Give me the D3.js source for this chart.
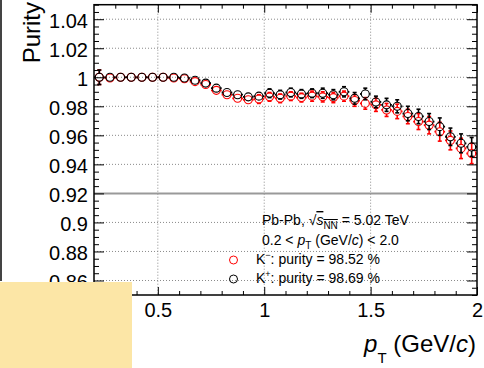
<!DOCTYPE html>
<html>
<head>
<meta charset="utf-8">
<script src="https://cdn.jsdelivr.net/npm/d3@7"></script>
<style>
body { margin: 0; background: #fff; }
svg { display: block; font-family: "Liberation Sans", Arial, Helvetica, sans-serif; }
</style>
</head>
<body>
<svg id="chart" width="484" height="368"></svg>
<script>
// bin centres (GeV/c)
const ptBins = [0.225, 0.275, 0.325, 0.375, 0.425, 0.475, 0.525, 0.575, 0.625, 0.675,
                0.725, 0.775, 0.825, 0.875, 0.925, 0.975, 1.025, 1.075, 1.125, 1.175,
                1.225, 1.275, 1.325, 1.375, 1.425, 1.475, 1.525, 1.575, 1.625, 1.675,
                1.725, 1.775, 1.825, 1.875, 1.925, 1.975];
const binHalfWidth = 0.025;

// K- purity (red)
const kMinus = [1.000, 0.9995, 1.000, 1.000, 1.000, 1.000, 1.000, 0.9995, 0.999, 0.997,
                0.995, 0.991, 0.988, 0.9855, 0.9845, 0.985, 0.9865, 0.9855, 0.987, 0.986,
                0.987, 0.9865, 0.986, 0.987, 0.984, 0.982, 0.981, 0.9775, 0.9765, 0.973,
                0.9695, 0.967, 0.9625, 0.9565, 0.951, 0.9475];
const kMinusErr = [0.005, 0.002, 0.0015, 0.0015, 0.0015, 0.0015, 0.0015, 0.0015, 0.002, 0.002,
                   0.002, 0.0025, 0.0025, 0.0025, 0.0025, 0.003, 0.003, 0.003, 0.003, 0.003,
                   0.0035, 0.0035, 0.0035, 0.0035, 0.004, 0.004, 0.0045, 0.0045, 0.005, 0.005,
                   0.0055, 0.006, 0.0065, 0.0065, 0.007, 0.007];

// K+ purity (black)
const kPlus = [1.000, 1.000, 1.000, 1.000, 1.000, 1.000, 1.000, 1.000, 0.9995, 0.998,
               0.996, 0.9925, 0.9895, 0.988, 0.9865, 0.987, 0.989, 0.988, 0.9895, 0.9885,
               0.989, 0.989, 0.988, 0.990, 0.9855, 0.9885, 0.983, 0.981, 0.980, 0.975,
               0.973, 0.9695, 0.966, 0.959, 0.9545, 0.952];
const kPlusErr = [0.005, 0.002, 0.0015, 0.0015, 0.0015, 0.0015, 0.0015, 0.0015, 0.002, 0.002,
                  0.002, 0.002, 0.0025, 0.0025, 0.0025, 0.0025, 0.003, 0.003, 0.003, 0.003,
                  0.003, 0.0035, 0.0035, 0.0035, 0.004, 0.004, 0.004, 0.0045, 0.0045, 0.005,
                  0.005, 0.0055, 0.006, 0.006, 0.0065, 0.0065];

// axis ticks
const xMajor = [0.5, 1, 1.5, 2];
const xMinor = [0.3, 0.4, 0.6, 0.7, 0.8, 0.9, 1.1, 1.2, 1.3, 1.4, 1.6, 1.7, 1.8, 1.9];
const yMajor = [0.86, 0.88, 0.9, 0.92, 0.94, 0.96, 0.98, 1, 1.02, 1.04];
const yMinorStep = 0.005;
const refLine = 0.92;

const svg = d3.select("#chart");
const x = d3.scaleLinear().domain([0.2, 2.0]).range([94, 477]);
const y = d3.scaleLinear().domain([0.85, 1.05]).range([295, 4.7]);
const [x0, x1] = x.range();
const [yb, yt] = y.range();

const yMinor = d3.range(0.85, 1.0501, yMinorStep)
    .map(v => +v.toFixed(3))
    .filter(v => !yMajor.some(m => Math.abs(m - v) < 1e-6));

// left neighbour pad edge
svg.append("line")
    .attr("x1", 1).attr("x2", 1).attr("y1", 0).attr("y2", 281)
    .attr("stroke", "#444").attr("stroke-width", 2);

// grid
const grid = svg.append("g").attr("stroke", "#8a8a8a").attr("stroke-width", 1)
    .attr("stroke-dasharray", "1,2");
grid.selectAll(".gx").data(xMajor.filter(d => d < 2)).enter().append("line")
    .attr("x1", d => x(d)).attr("x2", d => x(d)).attr("y1", yt).attr("y2", yb);
grid.selectAll(".gy").data(yMajor.filter(d => d !== refLine)).enter().append("line")
    .attr("x1", x0).attr("x2", x1).attr("y1", d => y(d)).attr("y2", d => y(d));

// reference line
svg.append("line")
    .attr("x1", x0).attr("x2", x1).attr("y1", y(refLine)).attr("y2", y(refLine))
    .attr("stroke", "#999").attr("stroke-width", 2);

// data
const r = 4;
function drawSeries(vals, errs, color) {
    const g = svg.append("g").attr("stroke", color).attr("fill", "none");
    const pts = ptBins.map((p, i) => ({ p, v: vals[i], e: errs[i] }));
    pts.forEach(d => {
        const cx = x(d.p), cy = y(d.v);
        const xl = x(d.p - binHalfWidth), xr = x(d.p + binHalfWidth);
        const ylo = y(d.v - d.e), yhi = y(d.v + d.e);
        g.append("line").attr("x1", xl).attr("x2", cx - r).attr("y1", cy).attr("y2", cy).attr("stroke-width", 1.8);
        g.append("line").attr("x1", cx + r).attr("x2", xr).attr("y1", cy).attr("y2", cy).attr("stroke-width", 1.8);
        if (ylo > cy + r) {
            g.append("line").attr("x1", cx).attr("x2", cx).attr("y1", cy + r).attr("y2", ylo).attr("stroke-width", 1.6);
            g.append("line").attr("x1", cx - 2).attr("x2", cx + 2).attr("y1", ylo).attr("y2", ylo).attr("stroke-width", 1.6);
        }
        if (yhi < cy - r) {
            g.append("line").attr("x1", cx).attr("x2", cx).attr("y1", cy - r).attr("y2", yhi).attr("stroke-width", 1.6);
            g.append("line").attr("x1", cx - 2).attr("x2", cx + 2).attr("y1", yhi).attr("y2", yhi).attr("stroke-width", 1.6);
        }
        g.append("circle").attr("cx", cx).attr("cy", cy).attr("r", r).attr("stroke-width", 1.1);
    });
}
drawSeries(kMinus, kMinusErr, "#f00");
drawSeries(kPlus, kPlusErr, "#000");

// axes (ROOT style, ticks inside)
function styleAxis(g, size) {
    g.select(".domain").remove();
    g.selectAll("text").attr("font-family", null).attr("font-size", size).attr("fill", "#000");
    g.selectAll("line").attr("stroke", "#000").attr("stroke-width", 1);
    g.attr("font-family", null).attr("font-size", null);
}
const fmt = d3.format("");
svg.append("g").attr("transform", `translate(0,${yb})`)
    .call(d3.axisBottom(x).tickValues(xMajor).tickSize(-8).tickPadding(8).tickFormat(fmt))
    .call(g => styleAxis(g, 20));
svg.append("g").attr("transform", `translate(0,${yb})`)
    .call(d3.axisBottom(x).tickValues(xMinor).tickSize(-4).tickFormat(""))
    .call(g => styleAxis(g, 20));
svg.append("g").attr("transform", `translate(0,${yt})`)
    .call(d3.axisTop(x).tickValues(xMajor).tickSize(-8).tickFormat(""))
    .call(g => styleAxis(g, 20));
svg.append("g").attr("transform", `translate(0,${yt})`)
    .call(d3.axisTop(x).tickValues(xMinor).tickSize(-4).tickFormat(""))
    .call(g => styleAxis(g, 20));
svg.append("g").attr("transform", `translate(${x0},0)`)
    .call(d3.axisLeft(y).tickValues(yMajor).tickSize(-10).tickPadding(6).tickFormat(fmt))
    .call(g => styleAxis(g, 20))
    .call(g => g.selectAll("text").attr("dy", "0.4em"));
svg.append("g").attr("transform", `translate(${x0},0)`)
    .call(d3.axisLeft(y).tickValues(yMinor).tickSize(-5).tickFormat(""))
    .call(g => styleAxis(g, 20));
svg.append("g").attr("transform", `translate(${x1},0)`)
    .call(d3.axisRight(y).tickValues(yMajor).tickSize(-10).tickFormat(""))
    .call(g => styleAxis(g, 20));
svg.append("g").attr("transform", `translate(${x1},0)`)
    .call(d3.axisRight(y).tickValues(yMinor).tickSize(-5).tickFormat(""))
    .call(g => styleAxis(g, 20));

// frame
svg.append("rect")
    .attr("x", x0).attr("y", yt).attr("width", x1 - x0).attr("height", yb - yt)
    .attr("fill", "none").attr("stroke", "#000").attr("stroke-width", 1.5);

// axis titles
svg.append("text")
    .attr("transform", "translate(40,2) rotate(-90)")
    .attr("text-anchor", "end").attr("font-size", 24)
    .text("Purity");

const xt = svg.append("text").attr("x", 476).attr("y", 352)
    .attr("text-anchor", "end").attr("font-size", 24);
xt.append("tspan").attr("font-style", "italic").text("p");
xt.append("tspan").attr("font-size", 15).attr("dy", 11).text("T");
xt.append("tspan").attr("dy", -11).text(" (GeV/");
xt.append("tspan").attr("font-style", "italic").text("c");
xt.append("tspan").text(")");

// legend
const lg = svg.append("g").attr("font-size", 14).attr("fill", "#000");
const l1 = lg.append("text").attr("x", 262).attr("y", 225);
l1.append("tspan").text("Pb-Pb, \u221A");
const rad = l1.append("tspan").style("text-decoration", "overline");
rad.append("tspan").attr("font-style", "italic").text("s");
rad.append("tspan").attr("font-size", 10).attr("dy", 4).text("NN");
l1.append("tspan").attr("dy", -4).text(" = 5.02 TeV");

const l2 = lg.append("text").attr("x", 262).attr("y", 245);
l2.append("tspan").text("0.2 < ");
l2.append("tspan").attr("font-style", "italic").text("p");
l2.append("tspan").attr("font-size", 10).attr("dy", 4).text("T");
l2.append("tspan").attr("dy", -4).text(" (GeV/");
l2.append("tspan").attr("font-style", "italic").text("c");
l2.append("tspan").text(") < 2.0");

const legendItems = [
    { color: "#f00", sign: "\u2212", label: ": purity = 98.52 %", y: 264 },
    { color: "#000", sign: "+", label: ": purity = 98.69 %", y: 283 }
];
legendItems.forEach(d => {
    lg.append("circle").attr("cx", 233.5).attr("cy", d.y - 4).attr("r", 4)
        .attr("fill", "none").attr("stroke", d.color).attr("stroke-width", 1);
    const t = lg.append("text").attr("x", 256).attr("y", d.y);
    t.append("tspan").text("K");
    t.append("tspan").attr("font-size", 9).attr("dy", -6).text(d.sign);
    t.append("tspan").attr("dy", 6).text(d.label);
});

// overlay box bottom-left
svg.append("rect")
    .attr("x", 0).attr("y", 282).attr("width", 132).attr("height", 86)
    .attr("fill", "#fce6a6");
</script>
</body>
</html>
